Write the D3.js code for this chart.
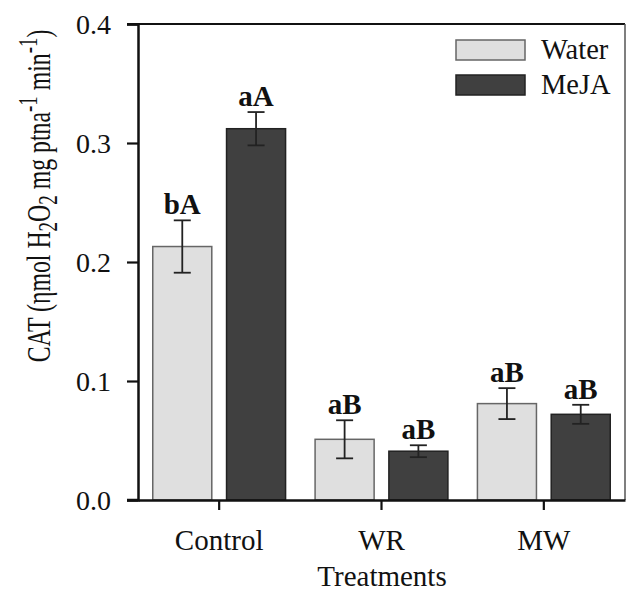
<!DOCTYPE html>
<html>
<head>
<meta charset="utf-8">
<script src="https://cdn.jsdelivr.net/npm/d3@7"></script>
<style>
  body { margin: 0; background: #fff; }
  text { font-family: "Liberation Serif", "Times New Roman", serif; fill: #111; }
</style>
</head>
<body>
<div id="chart"></div>
<script>
var categories = ["Control", "WR", "MW"];
var seriesNames = ["Water", "MeJA"];
var waterMean = [0.213, 0.051, 0.081];
var waterErr = [0.022, 0.016, 0.013];
var mejaMean = [0.312, 0.041, 0.072];
var mejaErr = [0.014, 0.005, 0.008];
var waterLetters = ["bA", "aB", "aB"];
var mejaLetters = ["aA", "aB", "aB"];
var yTicks = [0, 0.1, 0.2, 0.3, 0.4];

var svgWidth = 627, svgHeight = 594;
var margin = { top: 24, right: 2, bottom: 94, left: 138 };

var svg = d3.select("#chart")
  .append("svg")
  .attr("width", svgWidth)
  .attr("height", svgHeight);

var x0 = d3.scaleBand()
  .domain(categories)
  .range([margin.left, svgWidth - margin.right])
  .padding(0);

var x1 = d3.scaleBand()
  .domain(seriesNames)
  .range([0, x0.bandwidth()])
  .paddingInner(0.2)
  .paddingOuter(0.2);

var y = d3.scaleLinear()
  .domain([0, 0.4])
  .range([svgHeight - margin.bottom, margin.top]);

var fills = { Water: "#dfdfdf", MeJA: "#404040" };
var strokes = { Water: "#666", MeJA: "#222" };

var rows = [];
categories.forEach(function(c, i) {
  rows.push({ cat: c, s: "Water", v: waterMean[i], e: waterErr[i], lab: waterLetters[i] });
  rows.push({ cat: c, s: "MeJA", v: mejaMean[i], e: mejaErr[i], lab: mejaLetters[i] });
});

function label(g, x, yy, str, anchor, size, weight) {
  return g.append("text")
    .attr("x", x)
    .attr("y", yy)
    .attr("text-anchor", anchor)
    .style("font-size", size + "px")
    .style("font-weight", weight || "normal")
    .text(str);
}

// bars
svg.selectAll("rect.bar")
  .data(rows)
  .enter()
  .append("rect")
  .attr("class", "bar")
  .attr("x", d => x0(d.cat) + x1(d.s))
  .attr("width", x1.bandwidth())
  .attr("y", d => y(d.v))
  .attr("height", d => y(0) - y(d.v))
  .attr("fill", d => fills[d.s])
  .attr("stroke", d => strokes[d.s])
  .attr("stroke-width", 1.5);

// error bars
var eb = svg.selectAll("g.err")
  .data(rows)
  .enter()
  .append("g")
  .attr("class", "err")
  .attr("stroke", "#222")
  .attr("stroke-width", 1.8);

var cx = d => x0(d.cat) + x1(d.s) + x1.bandwidth() / 2;
eb.append("line")
  .attr("x1", cx).attr("x2", cx)
  .attr("y1", d => y(d.v + d.e)).attr("y2", d => y(d.v - d.e));
eb.append("line")
  .attr("x1", d => cx(d) - 8.5).attr("x2", d => cx(d) + 8.5)
  .attr("y1", d => y(d.v + d.e)).attr("y2", d => y(d.v + d.e));
eb.append("line")
  .attr("x1", d => cx(d) - 8.5).attr("x2", d => cx(d) + 8.5)
  .attr("y1", d => y(d.v - d.e)).attr("y2", d => y(d.v - d.e));

// letters above bars
rows.forEach(function(d) {
  label(svg, cx(d), y(d.v + d.e) - 6, d.lab, "middle", 29, "bold");
});

// frame top and right
svg.append("line")
  .attr("x1", margin.left - 11).attr("x2", svgWidth - margin.right)
  .attr("y1", y(0.4)).attr("y2", y(0.4))
  .attr("stroke", "#111").attr("stroke-width", 2.2);
svg.append("line")
  .attr("x1", svgWidth - margin.right).attr("x2", svgWidth - margin.right)
  .attr("y1", y(0.4)).attr("y2", y(0))
  .attr("stroke", "#555").attr("stroke-width", 1.5);

// y axis
var yAxis = d3.axisLeft(y).tickValues(yTicks).tickSize(11).tickFormat("");
var yg = svg.append("g")
  .attr("transform", `translate(${margin.left},0)`)
  .call(yAxis);
yg.select(".domain").attr("stroke", "#111").attr("stroke-width", 2.5);
yg.selectAll(".tick line").attr("stroke", "#111").attr("stroke-width", 2.2);
yTicks.forEach(function(t) {
  label(svg, margin.left - 27, y(t) + 10, d3.format(".1f")(t), "end", 28);
});

// x axis
var xAxis = d3.axisBottom(x0).tickSize(10).tickSizeOuter(0).tickFormat("");
var xg = svg.append("g")
  .attr("transform", `translate(0,${y(0)})`)
  .call(xAxis);
xg.select(".domain").attr("stroke", "#111").attr("stroke-width", 2.5);
xg.selectAll(".tick line").attr("stroke", "#111").attr("stroke-width", 2.2);
svg.append("line")
  .attr("x1", margin.left - 11).attr("x2", margin.left)
  .attr("y1", y(0)).attr("y2", y(0))
  .attr("stroke", "#111").attr("stroke-width", 2.5);
categories.forEach(function(c) {
  label(svg, x0(c) + x0.bandwidth() / 2, 550, c, "middle", 29);
});

// axis titles
label(svg, 382, 586, "Treatments", "middle", 29);

// y title is set in a narrow face in the original
var yt = svg.append("text")
  .attr("transform", "translate(50,196) rotate(-90) scale(0.7,1)")
  .attr("text-anchor", "middle")
  .style("font-size", "34px");
yt.append("tspan").text("CAT (\u03b7mol H");
yt.append("tspan").attr("dy", 7).style("font-size", "27px").text("2");
yt.append("tspan").attr("dy", -7).text("O");
yt.append("tspan").attr("dy", 7).style("font-size", "27px").text("2");
yt.append("tspan").attr("dy", -7).text(" mg ptna");
yt.append("tspan").attr("dy", -13).style("font-size", "27px").text("-1");
yt.append("tspan").attr("dy", 13).text(" min");
yt.append("tspan").attr("dy", -13).style("font-size", "27px").text("-1");
yt.append("tspan").attr("dy", 13).text(")");

// legend
var legY = [40, 75];
seriesNames.forEach(function(s, i) {
  svg.append("rect")
    .attr("x", 456).attr("y", legY[i])
    .attr("width", 69).attr("height", 20)
    .attr("fill", fills[s])
    .attr("stroke", strokes[s])
    .attr("stroke-width", 1.5);
  label(svg, 541, legY[i] + 18.5, s, "start", 28.5);
});
</script>
</body>
</html>
